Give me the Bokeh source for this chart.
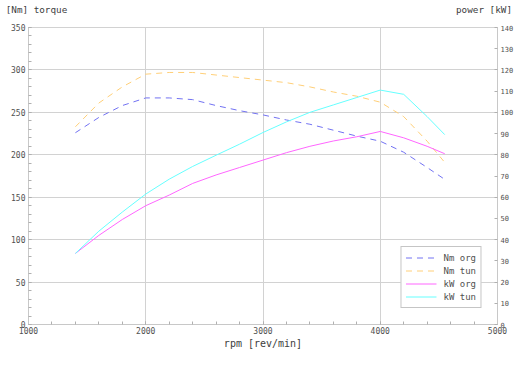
from bokeh.plotting import figure
from bokeh.models import Range1d, LinearAxis, SingleIntervalTicker, FixedTicker, Legend, LegendItem
from bokeh.embed import file_html
from bokeh.resources import INLINE

# ---- data ----
rpm = [1400, 1600, 1800, 2000, 2200, 2400, 2600, 2800, 3000, 3200, 3400, 3600, 3800, 4000, 4200, 4400, 4550]
nm_org = [226, 244, 258, 267, 267, 265, 258, 252, 247, 241, 236, 229, 222, 216, 203, 185, 171]
nm_tun = [233, 261, 280, 295, 297, 297, 294, 291, 288, 285, 280, 274, 269, 262, 245, 216, 191]
kw_org = [33.5, 42, 49.5, 56, 61, 66.5, 70.5, 74, 77.5, 81, 84, 86.5, 88.5, 91, 88, 84, 80.5]
kw_tun = [33.5, 44, 53, 61.5, 68.5, 74.5, 79.8, 85, 90.5, 95.5, 100, 103.5, 107, 110.5, 108.5, 98, 89.5]
series_names = ["Nm org", "Nm tun", "kW org", "kW tun"]
left_title = "[Nm] torque"
right_title = "power [kW]"

FONT = "DejaVu Sans Mono"
TXT = "#505050"
GRID = "#d2d2d2"

p = figure(width=516, height=351, output_backend="svg", toolbar_location=None,
           x_range=Range1d(1000, 5000), y_range=Range1d(0, 350),
           min_border_left=28, min_border_right=16, min_border_top=27, min_border_bottom=24)
p.title.visible = False
p.outline_line_color = GRID
p.background_fill_color = "white"
p.border_fill_color = "white"

p.extra_y_ranges = {"kw": Range1d(0, 140)}

def style_axis(ax, size="8px"):
    ax.axis_line_color = "#c8c8c8"
    ax.major_tick_line_color = "#b0b0b0"
    ax.minor_tick_line_color = "#b0b0b0"
    ax.major_tick_in = 3
    ax.major_tick_out = 0
    ax.minor_tick_in = 3
    ax.minor_tick_out = 0
    ax.major_label_text_font = FONT
    ax.major_label_text_font_size = size
    ax.major_label_text_color = TXT
    ax.major_label_standoff = 3

p.xaxis.ticker = SingleIntervalTicker(interval=1000, num_minor_ticks=5)
p.yaxis.ticker = SingleIntervalTicker(interval=50, num_minor_ticks=5)
style_axis(p.xaxis[0])
style_axis(p.yaxis[0])
p.xaxis.axis_label = "rpm [rev/min]"
p.xaxis.axis_label_text_font = FONT
p.xaxis.axis_label_text_font_size = "10px"
p.xaxis.axis_label_text_font_style = "normal"
p.xaxis.axis_label_text_color = "#404040"
p.xaxis.axis_label_standoff = 1
p.xaxis.major_label_standoff = 2

raxis = LinearAxis(y_range_name="kw", ticker=SingleIntervalTicker(interval=10, num_minor_ticks=0))
style_axis(raxis, "7px")
raxis.major_label_standoff = 3
p.add_layout(raxis, "right")

# header texts: an unlined axis above the frame carrying the two corner captions
head_ticks = [1068, 4885]
top_axis = LinearAxis(ticker=FixedTicker(ticks=head_ticks),
                      major_label_overrides={head_ticks[0]: left_title, head_ticks[1]: right_title})
top_axis.axis_line_color = None
top_axis.major_tick_line_color = None
top_axis.minor_tick_line_color = None
top_axis.major_tick_in = 0
top_axis.major_tick_out = 0
top_axis.major_label_standoff = 13
top_axis.major_label_text_font = FONT
top_axis.major_label_text_font_size = "9.3px"
top_axis.major_label_text_color = "#404040"
p.add_layout(top_axis, "above")

p.xgrid.grid_line_color = GRID
p.ygrid.grid_line_color = GRID
p.xgrid.ticker = SingleIntervalTicker(interval=1000)
p.ygrid.ticker = SingleIntervalTicker(interval=50)

r1 = p.line(rpm, nm_org, line_color="#7272f2", line_width=1, line_dash="6 5")
r2 = p.line(rpm, nm_tun, line_color="#ffcf78", line_width=1, line_dash="6 5")
r3 = p.line(rpm, kw_org, line_color="#ff66ff", line_width=1, y_range_name="kw")
r4 = p.line(rpm, kw_tun, line_color="#66ffff", line_width=1, y_range_name="kw")

legend = Legend(items=[LegendItem(label=n, renderers=[r]) for n, r in zip(series_names, [r1, r2, r3, r4])],
                location="bottom_right")
legend.margin = 16
legend.padding = 4
legend.spacing = 0
legend.glyph_width = 31
legend.glyph_height = 13
legend.label_height = 13
legend.label_standoff = 7
legend.label_text_font = FONT
legend.label_text_font_size = "9px"
legend.label_text_color = TXT
legend.border_line_color = "#8c8c8c"
legend.border_line_width = 1
legend.background_fill_alpha = 1.0
p.add_layout(legend, "center")

open("out.html", "w").write(file_html(p, INLINE))
